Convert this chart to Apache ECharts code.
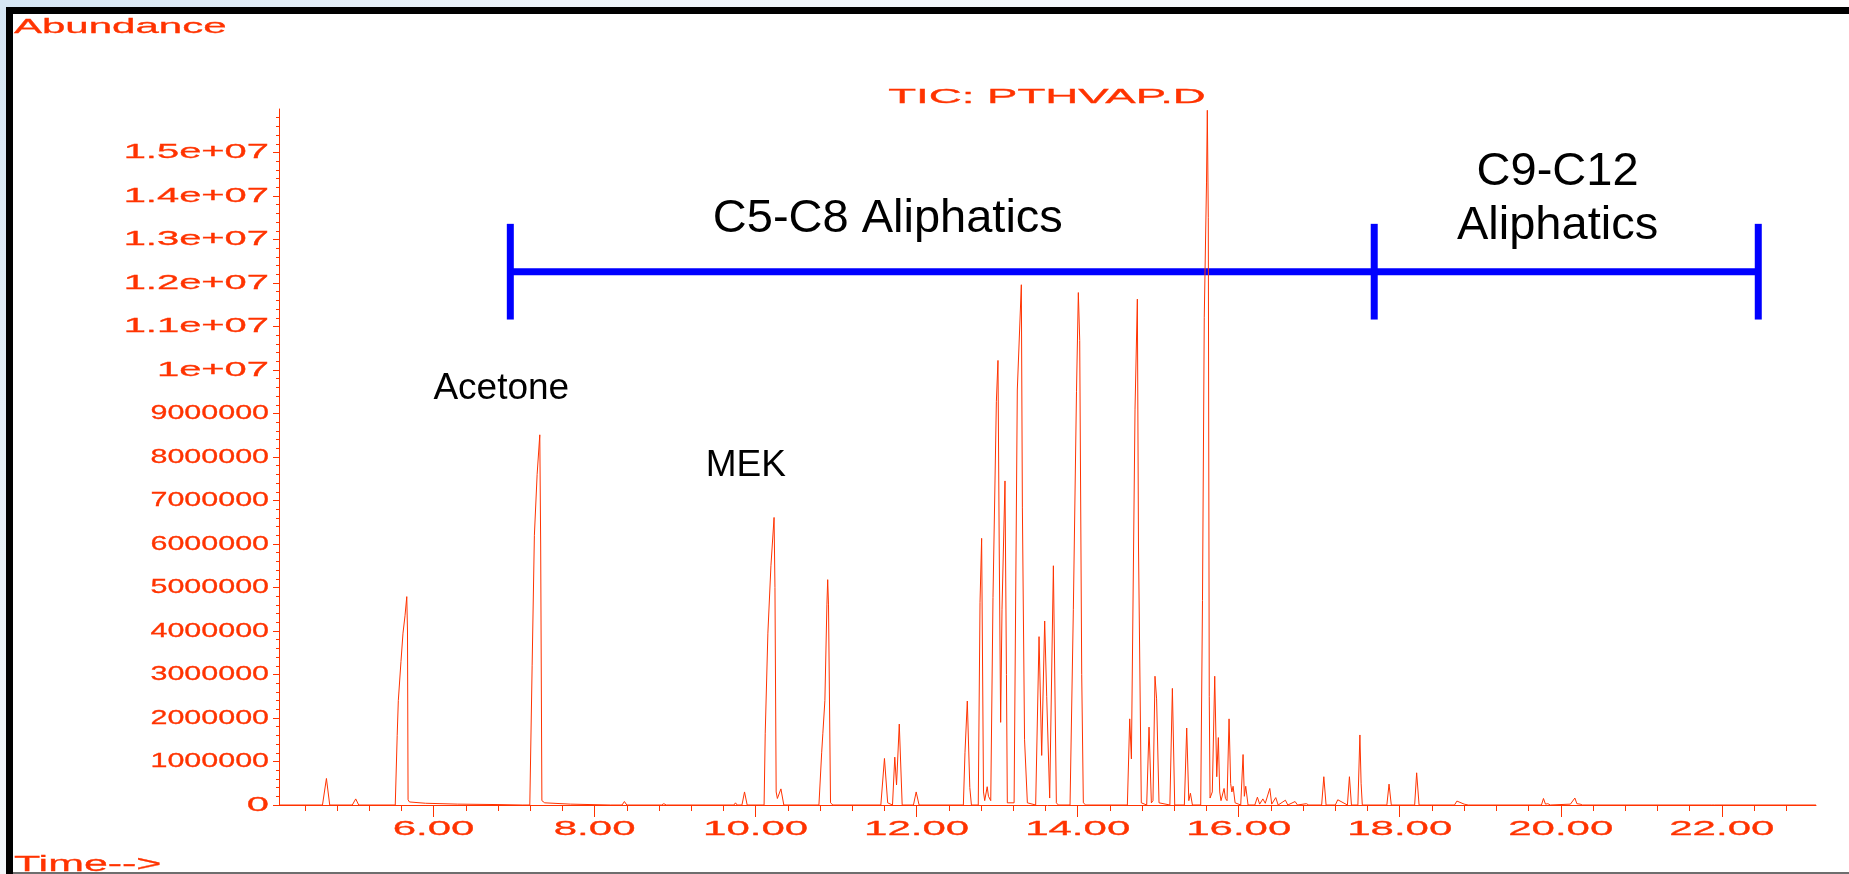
<!DOCTYPE html>
<html>
<head>
<meta charset="utf-8">
<script src="https://cdn.jsdelivr.net/npm/echarts@6/dist/echarts.min.js"></script>
<style>
  html, body { margin: 0; padding: 0; background: #ffffff; }
  #chart { width: 1849px; height: 874px; }
</style>
</head>
<body>
<div id="chart"></div>
<script>
// ---------------- data ----------------
// TIC trace: [retention time (min), abundance (millions)]
const ticPoints = [
  [4.08,0],[4.62,0],[4.669,0.61],[4.71,0],
  [4.99,0],[5.033,0.14],[5.07,0],
  [5.524,0],[5.548,1.6],[5.562,2.4],[5.595,3.3],[5.62,3.95],[5.645,4.35],[5.667,4.79],[5.676,4.0],[5.683,0.12],[5.70,0.07],[5.9,0.04],[6.3,0.02],[6.8,0.01],[7.1,0],
  [7.195,0],[7.224,3.2],[7.252,6.2],[7.286,7.6],[7.319,8.51],[7.33,6.0],[7.345,0.1],[7.38,0.05],[7.7,0.02],[8.2,0],
  [8.34,0],[8.37,0.08],[8.40,0],
  [8.83,0],[8.86,0.03],[8.89,0],
  [9.73,0],[9.75,0.05],[9.77,0],[9.83,0],[9.862,0.30],[9.895,0],
  [10.105,0],[10.119,1.65],[10.152,3.95],[10.19,5.5],[10.229,6.61],[10.24,5.0],[10.255,0.3],[10.27,0.15],[10.314,0.37],[10.35,0],
  [10.786,0],[10.82,1.2],[10.835,1.65],[10.86,2.4],[10.885,4.6],[10.895,5.18],[10.905,4.6],[10.93,0.05],[10.96,0],
  [11.555,0],[11.60,1.07],[11.64,0.05],
  [11.70,0],[11.728,1.1],[11.75,0.46],[11.784,1.86],[11.82,0],
  [11.96,0],[11.994,0.30],[12.03,0],
  [12.58,0],[12.60,1.2],[12.629,2.39],[12.66,0.4],[12.68,0],
  [12.765,0],[12.787,4.66],[12.807,6.13],[12.83,0.3],[12.845,0.1],[12.857,0.1],[12.876,0.42],[12.892,0.2],
  [12.92,0.1],[12.948,4.77],[12.99,9.27],[13.01,10.22],[13.025,6.0],[13.043,1.9],[13.06,4.5],[13.097,7.45],[13.115,3.0],[13.126,0.05],
  [13.21,0.05],[13.25,9.54],[13.30,11.96],[13.313,6.83],[13.34,1.5],[13.375,0.05],
  [13.478,0],[13.52,3.87],[13.553,1.14],[13.59,4.23],[13.615,2.5],[13.652,0.16],[13.698,5.5],[13.735,0.05],[13.76,0],
  [13.905,0],[13.946,4.5],[13.985,9.5],[14.008,11.78],[14.025,10.68],[14.05,3.0],[14.07,0.05],[14.1,0],
  [14.617,0],[14.646,1.98],[14.667,1.06],[14.712,9.1],[14.741,11.63],[14.755,6.0],[14.79,0.05],
  [14.857,0],[14.886,1.79],[14.915,0.05],[14.935,0.1],[14.96,2.96],[14.98,2.44],[15.01,0.05],
  [15.145,0],[15.176,2.68],[15.205,0],
  [15.325,0],[15.354,1.77],[15.38,0.1],[15.40,0.27],[15.425,0],
  [15.528,0],[15.55,4.7],[15.572,11.2],[15.60,14.3],[15.61,15.97],[15.622,13.5],[15.634,2.5],[15.644,0.16],
  [15.672,0.3],[15.702,2.96],[15.727,0.65],[15.747,1.55],[15.764,0.3],[15.78,0.1],
  [15.80,0.1],[15.818,0.38],[15.835,0.15],
  [15.855,0.1],[15.88,1.98],[15.90,0.49],[15.915,0.3],[15.93,0.43],[15.955,0.05],
  [16.025,0],[16.054,1.16],[16.07,0.2],[16.087,0.43],[16.116,0],
  [16.20,0],[16.232,0.18],[16.26,0.02],[16.30,0.14],[16.33,0.04],[16.386,0.38],[16.41,0.02],[16.46,0.17],[16.49,0],
  [16.58,0.11],[16.61,0],[16.70,0.08],[16.73,0],[16.84,0.03],[16.87,0],
  [17.03,0],[17.057,0.65],[17.085,0],
  [17.20,0],[17.23,0.12],[17.32,0.03],[17.35,0],[17.375,0.65],[17.40,0],
  [17.48,0],[17.505,1.61],[17.52,0.5],[17.535,0],
  [17.84,0],[17.867,0.48],[17.895,0],
  [18.185,0],[18.21,0.74],[18.24,0],
  [18.68,0],[18.71,0.09],[18.8,0.02],[18.85,0],
  [19.76,0],[19.785,0.15],[19.81,0.02],[19.84,0.03],[19.87,0],
  [20.12,0.02],[20.175,0.16],[20.2,0.03],[20.24,0.02],[20.27,0],
  [21.87,0],[21.89,0.02],[21.91,0],
  [23.17,0]
];

// axes
const xMin = 4.08, xMax = 23.17;
const xMajorTicks = [6, 8, 10, 12, 14, 16, 18, 20, 22];
const xTickLabels = ['6.00', '8.00', '10.00', '12.00', '14.00', '16.00', '18.00', '20.00', '22.00'];
const xMinorTicks = [4.4,4.8,5.2,5.6,6.0,6.4,6.8,7.2,7.6,8.0,8.4,8.8,9.2,9.6,10.0,10.4,10.8,11.2,11.6,12.0,
  12.4,12.8,13.2,13.6,14.0,14.4,14.8,15.2,15.6,16.0,16.4,16.8,17.2,17.6,18.0,18.4,18.8,19.2,19.6,20.0,
  20.4,20.8,21.2,21.6,22.0,22.4,22.8];
const yMin = 0, yMax = 16;
const yTickValues = [0,1,2,3,4,5,6,7,8,9,10,11,12,13,14,15];
const yTickLabels = ['0','1000000','2000000','3000000','4000000','5000000','6000000','7000000','8000000',
  '9000000','1e+07','1.1e+07','1.2e+07','1.3e+07','1.4e+07','1.5e+07'];

// blue range brackets (time in min, abundance in millions)
const bracketTimes = [6.953, 17.683, 22.453];
const bracketLevel = 12.26, bracketTop = 13.36, bracketBottom = 11.16;

// annotation texts and their anchor points (time, abundance in millions)
const annotationTexts = ['Acetone', 'MEK', 'C5-C8 Aliphatics', 'C9-C12\nAliphatics'];
const annotationTimes = [6.841, 9.878, 11.642, 19.96];
const annotationValues = [9.56, 7.79, 13.47, 13.93];
const annotationSizes = [37, 37, 47, 47];

const titleText = 'TIC: PTHVAP.D';
const yAxisTitle = 'Abundance';
const xAxisTitle = 'Time-->';

// ---------------- chart ----------------
const RED = '#ff3300';
const BLUE = '#0000ff';
const chart = echarts.init(document.getElementById('chart'), null, { renderer: 'canvas' });

const bracketSeries = [
  { type: 'line', data: [[bracketTimes[0], bracketLevel], [bracketTimes[2], bracketLevel]] }
].concat(bracketTimes.map(t => ({ type: 'line', data: [[t, bracketTop], [t, bracketBottom]] })))
 .map(s => Object.assign(s, {
   showSymbol: false, silent: true, z: 1, clip: false,
   lineStyle: { color: BLUE, width: 7, cap: 'butt' }
 }));

chart.setOption({
  animation: false,
  backgroundColor: '#ffffff',
  grid: { left: 279, right: 33, top: 109, bottom: 69 },
  xAxis: [
    {
      type: 'value', min: xMin, max: xMax, position: 'bottom',
      axisLine: { show: true, lineStyle: { color: RED, width: 1 } },
      axisTick: { show: true, length: 6, customValues: xMinorTicks, lineStyle: { color: RED, width: 1 } },
      axisLabel: { show: false }, splitLine: { show: false }
    },
    {
      type: 'value', min: xMin, max: xMax, position: 'bottom',
      axisLine: { show: false },
      axisTick: { show: true, length: 12, customValues: xMajorTicks, lineStyle: { color: RED, width: 1 } },
      axisLabel: { show: false }, splitLine: { show: false }
    }
  ],
  yAxis: {
    type: 'value', min: yMin, max: yMax, interval: 1,
    axisLine: { show: true, lineStyle: { color: RED, width: 1 } },
    axisTick: { show: true, length: 6, customValues: yTickValues, lineStyle: { color: RED, width: 1 } },
    minorTick: { show: true, splitNumber: 5, length: 3, lineStyle: { color: RED, width: 1 } },
    axisLabel: { show: false }, splitLine: { show: false }, minorSplitLine: { show: false }
  },
  series: bracketSeries.concat([{
    type: 'line', name: 'TIC', data: ticPoints, showSymbol: false, z: 3,
    sampling: null, silent: true,
    lineStyle: { color: RED, width: 1 }
  }])
});

// ---------------- overlay texts & frame ----------------
const redFont = s => s + 'px "Liberation Sans", Arial, sans-serif';
const redStyle = (text, size, align) => ({
  text: text, fill: RED, stroke: RED, lineWidth: 0.3, font: redFont(size), align: align, verticalAlign: 'middle'
});
const g = [];
// frame
g.push({ type: 'rect', shape: { x: 0, y: 0, width: 1849, height: 7 }, style: {
  fill: new echarts.graphic.LinearGradient(0, 0, 1, 0, [{ offset: 0, color: '#d6e6f4' }, { offset: 0.3, color: '#eef4fa' }, { offset: 1, color: '#ffffff' }]) }, z: -10 });
g.push({ type: 'rect', shape: { x: 0, y: 0, width: 6, height: 874 }, style: {
  fill: new echarts.graphic.LinearGradient(0, 0, 0, 1, [{ offset: 0, color: '#d6e6f4' }, { offset: 1, color: '#f4f7fa' }]) }, z: -10 });
g.push({ type: 'rect', shape: { x: 6, y: 7, width: 1843, height: 7 }, style: { fill: '#000000' }, z: 10 });
g.push({ type: 'rect', shape: { x: 6, y: 7, width: 7, height: 867 }, style: { fill: '#000000' }, z: 10 });
g.push({ type: 'rect', shape: { x: 13, y: 872, width: 1836, height: 2 }, style: { fill: '#6e6e6e' }, z: 10 });

const axisX = chart.convertToPixel({ xAxisIndex: 0 }, xMin);
const axisY0 = chart.convertToPixel({ yAxisIndex: 0 }, 0);

// y tick labels (plain 7-digit labels are drawn narrower, as in the original print)
yTickValues.forEach((v, i) => {
  const py = chart.convertToPixel({ yAxisIndex: 0 }, v);
  const lbl = yTickLabels[i];
  const sx = /^\d{7}$/.test(lbl) ? 1.45 : 1.9;
  g.push({ type: 'text', x: axisX - 10, y: py, scaleX: sx, z: 20, style: redStyle(lbl, 21, 'right') });
});
// x tick labels
xMajorTicks.forEach((v, i) => {
  const px = chart.convertToPixel({ xAxisIndex: 0 }, v);
  g.push({ type: 'text', x: px, y: axisY0 + 24, scaleX: 2.0, z: 20, style: redStyle(xTickLabels[i], 21, 'center') });
});
// axis titles and chart title
g.push({ type: 'text', x: 14, y: 27, scaleX: 2.0, z: 20, style: redStyle(yAxisTitle, 21, 'left') });
g.push({ type: 'text', x: 14, y: 865, scaleX: 1.95, z: 5, style: redStyle(xAxisTitle, 22, 'left') });
g.push({ type: 'text', x: 1047, y: 97, scaleX: 2.28, z: 20, style: redStyle(titleText, 20, 'center') });
// black annotations
annotationTexts.forEach((txt, i) => {
  const p = chart.convertToPixel({ xAxisIndex: 0, yAxisIndex: 0 }, [annotationTimes[i], annotationValues[i]]);
  g.push({ type: 'text', x: p[0], y: p[1], z: 20,
    style: { text: txt, fill: '#000000', font: annotationSizes[i] + 'px "Liberation Sans", Arial, sans-serif',
      align: 'center', verticalAlign: 'middle', lineHeight: 54 } });
});

chart.setOption({ graphic: { elements: g } });
</script>
</body>
</html>
